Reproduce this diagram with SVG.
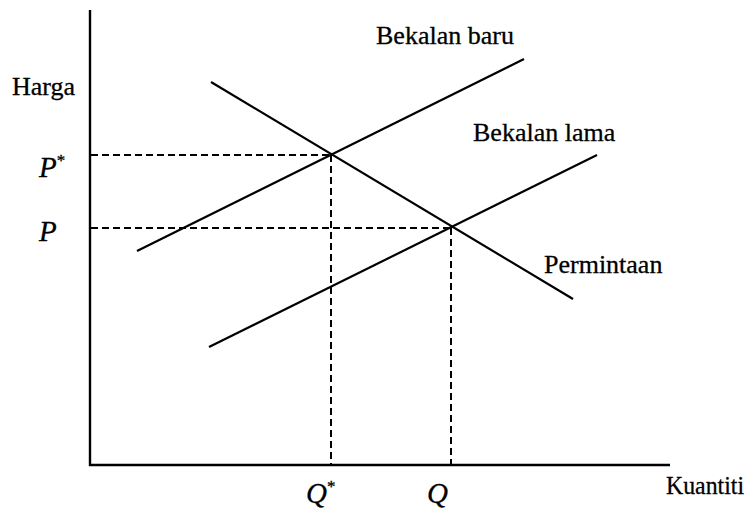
<svg xmlns="http://www.w3.org/2000/svg" width="753" height="516" viewBox="0 0 753 516">
<style>
.ax{stroke:#000;stroke-width:2.4;fill:none}
.cv{stroke:#000;stroke-width:2.2;fill:none;stroke-linecap:butt}
.ds{stroke:#000;stroke-width:2;fill:none;stroke-dasharray:7 4}
.t{font-family:"Liberation Serif","Times New Roman",serif;font-size:26px;fill:#000;stroke:#000;stroke-width:0.3}
.i{font-family:"Liberation Serif","Times New Roman",serif;font-size:29px;font-style:italic;fill:#000;stroke:#000;stroke-width:0.3}
.s{font-size:17px;font-style:normal}
</style>
<rect width="753" height="516" fill="#fff"/>
<g id="axes">
<line class="ax" x1="90" y1="10" x2="90" y2="466"/>
<line class="ax" x1="89" y1="465" x2="670" y2="465"/>
</g>
<g id="connectors">
<line class="ds" x1="91" y1="155" x2="331" y2="155"/>
<line class="ds" x1="91" y1="228" x2="451" y2="228"/>
<line class="ds" x1="331" y1="155" x2="331" y2="464"/>
<line class="ds" x1="451" y1="228" x2="451" y2="464"/>
</g>
<g id="permintaan">
<line class="cv" x1="211" y1="82" x2="573" y2="299"/>
<text class="t" x="544" y="273">Permintaan</text>
</g>
<g id="bekalan-baru">
<line class="cv" x1="137" y1="251" x2="524" y2="59"/>
<text class="t" x="376" y="44">Bekalan baru</text>
</g>
<g id="bekalan-lama">
<line class="cv" x1="209" y1="347" x2="597" y2="155"/>
<text class="t" x="473" y="141">Bekalan lama</text>
</g>
<g id="labels">
<text class="t" x="12" y="95">Harga</text>
<text class="i" x="39" y="177">P<tspan class="s" dy="-11">*</tspan></text>
<text class="i" x="39" y="241">P</text>
<text class="i" x="306" y="503">Q<tspan class="s" dy="-11">*</tspan></text>
<text class="i" x="427" y="503">Q</text>
<text class="t" x="666" y="494" textLength="78" lengthAdjust="spacingAndGlyphs">Kuantiti</text>
</g>
</svg>
